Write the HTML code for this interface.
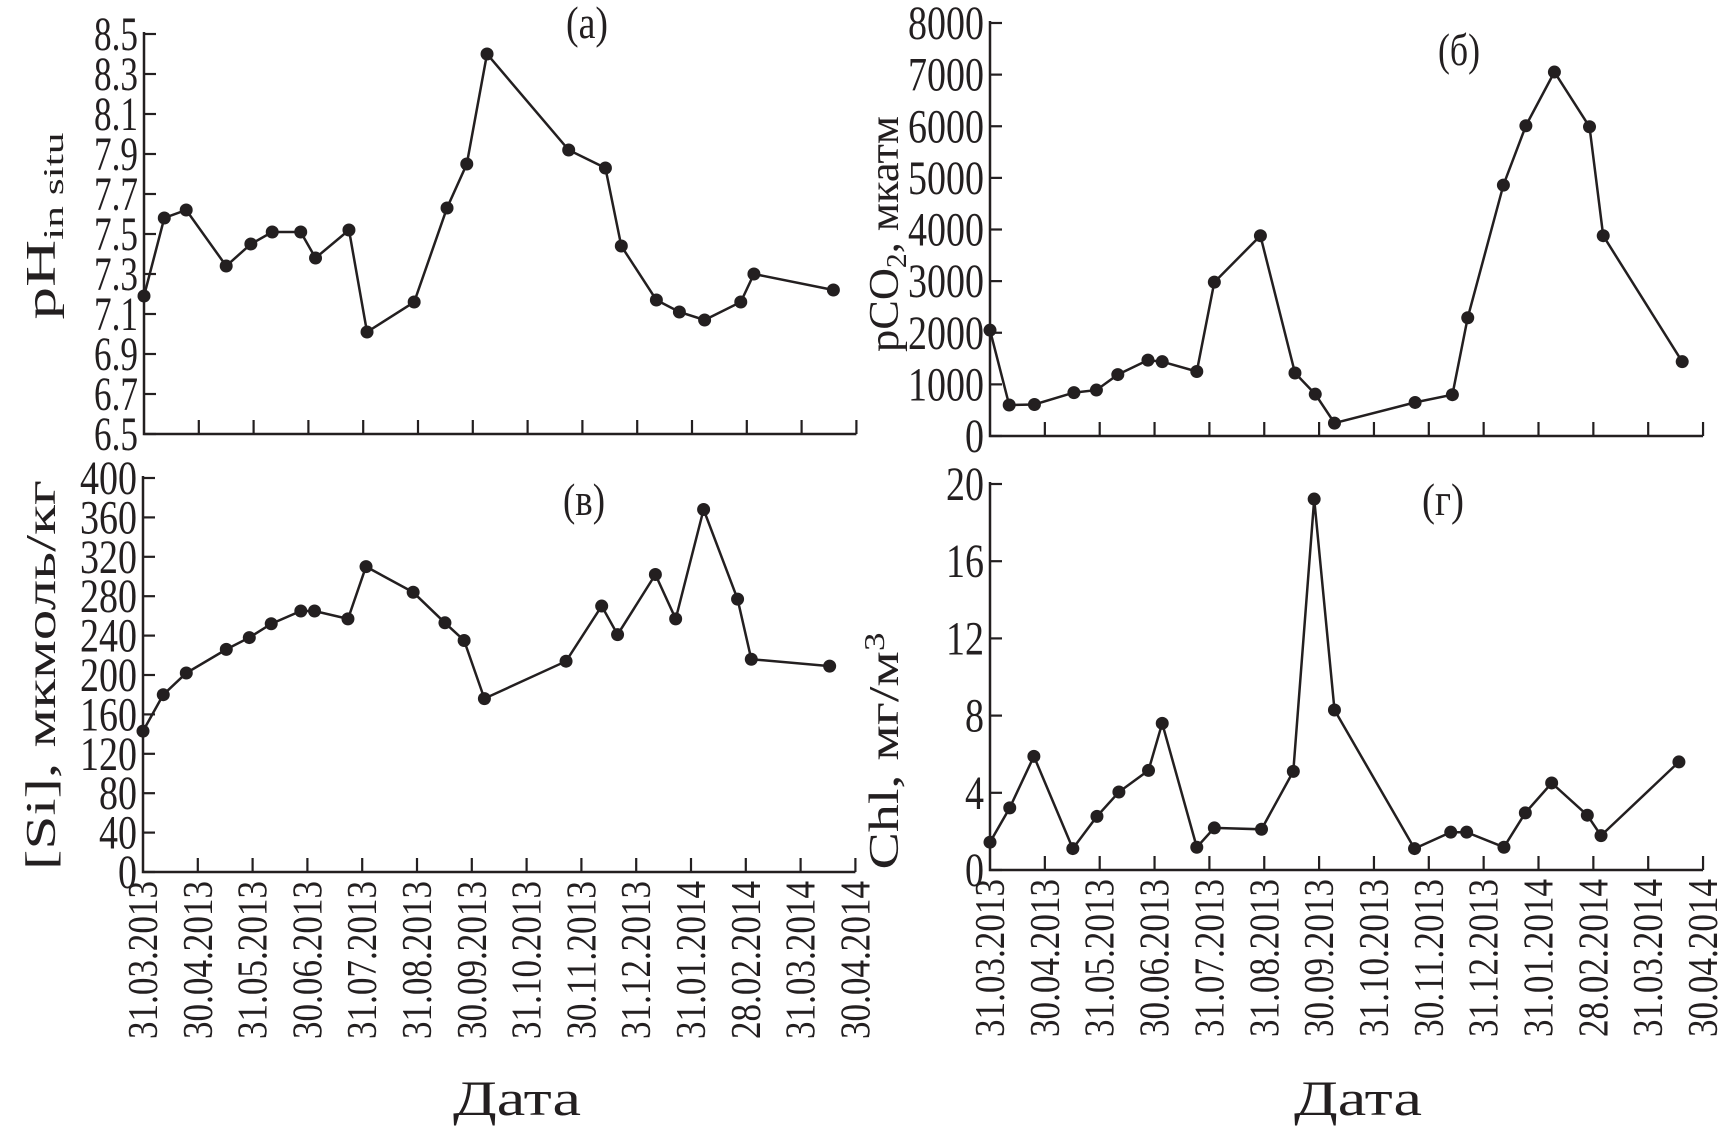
<!DOCTYPE html>
<html><head><meta charset="utf-8"><style>
html,body{margin:0;padding:0;background:#fff;}
svg{display:block;}
text{font-family:"Liberation Serif",serif;fill:#231f20;}
</style></head><body>
<svg id="fig" width="1718" height="1129" viewBox="0 0 1718 1129" xmlns="http://www.w3.org/2000/svg" style="position:absolute;left:0;top:0"></svg>
<script>
// ---- data (x = months after 31.03.2013) ----
const dateLabels = ["31.03.2013","30.04.2013","31.05.2013","30.06.2013","31.07.2013","31.08.2013","30.09.2013","31.10.2013","30.11.2013","31.12.2013","31.01.2014","28.02.2014","31.03.2014","30.04.2014"];
const phMonths = [0,0.37,0.77,1.5,1.95,2.34,2.86,3.13,3.74,4.07,4.93,5.53,5.89,6.26,7.75,8.42,8.71,9.35,9.77,10.23,10.89,11.13,12.58];
const phValues = [7.19,7.58,7.62,7.34,7.45,7.51,7.51,7.38,7.52,7.01,7.16,7.63,7.85,8.40,7.92,7.83,7.44,7.17,7.11,7.07,7.16,7.30,7.22];
const phTicks = [6.5,6.7,6.9,7.1,7.3,7.5,7.7,7.9,8.1,8.3,8.5];
const co2Months = [0,0.35,0.81,1.53,1.94,2.33,2.88,3.14,3.77,4.09,4.93,5.56,5.93,6.28,7.75,8.43,8.71,9.36,9.77,10.29,10.93,11.18,12.62];
const co2Values = [2050,600,610,840,890,1190,1470,1440,1250,2980,3880,1220,810,250,650,800,2290,4860,6010,7050,5990,3880,1440];
const co2Ticks = [0,1000,2000,3000,4000,5000,6000,7000,8000];
const siMonths = [0,0.37,0.79,1.52,1.94,2.34,2.88,3.13,3.74,4.07,4.93,5.51,5.86,6.23,7.72,8.37,8.66,9.35,9.72,10.23,10.85,11.1,12.53];
const siValues = [143,180,202,226,238,252,265,265,257,310,284,253,235,176,214,270,241,302,257,368,277,216,209];
const siTicks = [0,40,80,120,160,200,240,280,320,360,400];
const chlMonths = [0,0.36,0.80,1.51,1.95,2.35,2.89,3.14,3.77,4.09,4.95,5.53,5.91,6.28,7.74,8.40,8.69,9.37,9.76,10.24,10.89,11.14,12.56];
const chlValues = [1.44,3.22,5.89,1.11,2.78,4.04,5.16,7.6,1.18,2.18,2.11,5.11,19.22,8.29,1.11,1.96,1.96,1.18,2.96,4.51,2.84,1.78,5.6];
const chlTicks = [0,4,8,12,16,20];

const NS="http://www.w3.org/2000/svg";
const svg=document.getElementById('fig');
function mk(tag,attrs,parent){const e=document.createElementNS(NS,tag);for(const k in attrs)e.setAttribute(k,attrs[k]);(parent||svg).appendChild(e);return e;}
function labLen(s){let L=0;for(const c of s)L+=(c==='.'?6:19);return L;}

function panel(cfg){
  const g=mk('g',{});
  
  
  const sx=m=>cfg.x0+m*cfg.step;
  const sy=v=>cfg.yBot-(v-cfg.vmin)/(cfg.vmax-cfg.vmin)*(cfg.yBot-cfg.yTop);
  const xEnd=sx(13);
  const ax=mk('path',{d:`M${cfg.x0},${cfg.yTop-2}V${cfg.yBot}H${xEnd}`,stroke:'#231f20','stroke-width':2.5,fill:'none'},g);
  
  
  cfg.ticks.forEach(t=>{
    const y=sy(t);
    const tk=mk('line',{x1:cfg.x0,x2:cfg.x0+12,y1:y,y2:y,stroke:'#231f20','stroke-width':2.2},g);
    
    
    const s=cfg.fmt(t);
    const tx=mk('text',{x:cfg.x0-6,y:y+16,'text-anchor':'end','font-size':48,textLength:labLen(s),lengthAdjust:'spacingAndGlyphs'},g);
    tx.textContent=s;
    
    
  });
  for(let k=1;k<=13;k++){
    const tk=mk('line',{x1:sx(k),x2:sx(k),y1:cfg.yBot,y2:cfg.yBot-14,stroke:'#231f20','stroke-width':2.2},g);
    
    
  }
  if(cfg.dates){
    dateLabels.forEach((d,k)=>{
      const tx=mk('text',{transform:`translate(${sx(k)+14},${cfg.yBot+9}) rotate(-90)`,'text-anchor':'end','font-size':42,textLength:158,lengthAdjust:'spacingAndGlyphs'},g);
      tx.textContent=d;
      
      
    });
    const tx=mk('text',{x:cfg.dateX,y:1115,'text-anchor':'middle','font-size':50,textLength:128,lengthAdjust:'spacingAndGlyphs'},g);
    tx.textContent='Дата';
    
    
  }
  const pts=cfg.months.map((m,i)=>`${sx(m).toFixed(1)},${sy(cfg.values[i]).toFixed(1)}`).join(' ');
  const pl=mk('polyline',{points:pts,fill:'none',stroke:'#231f20','stroke-width':2.5},g);
  
  
  cfg.months.forEach((m,i)=>{
    const c=mk('circle',{cx:sx(m),cy:sy(cfg.values[i]),r:6.5,fill:'#231f20'},g);
    
    
  });
  const lt=mk('text',{x:cfg.lx,y:cfg.ly,'text-anchor':'middle','font-size':46,textLength:42,lengthAdjust:'spacingAndGlyphs'},g);
  lt.textContent=cfg.letter;
  
  
}

panel({name:'panel-ph',x0:144,step:54.8,yTop:34,yBot:434,vmin:6.5,vmax:8.5,ticks:phTicks,fmt:v=>v.toFixed(1),months:phMonths,values:phValues,letter:'(а)',lx:587,ly:38,dates:false});
panel({name:'panel-pco2',x0:990,step:54.85,yTop:23,yBot:436,vmin:0,vmax:8000,ticks:co2Ticks,fmt:v=>String(v),months:co2Months,values:co2Values,letter:'(б)',lx:1459,ly:65,dates:false});
panel({name:'panel-si',x0:143,step:54.8,yTop:478,yBot:872,vmin:0,vmax:400,ticks:siTicks,fmt:v=>String(v),months:siMonths,values:siValues,letter:'(в)',lx:584,ly:515,dates:true,dateX:517});
panel({name:'panel-chl',x0:990,step:54.85,yTop:484,yBot:870,vmin:0,vmax:20,ticks:chlTicks,fmt:v=>String(v),months:chlMonths,values:chlValues,letter:'(г)',lx:1443,ly:515,dates:true,dateX:1358});
</script>
<svg width="1718" height="1129" style="position:absolute;left:0;top:0" xmlns="http://www.w3.org/2000/svg">
  <text transform="translate(55,226) rotate(-90)" text-anchor="middle" font-size="42" textLength="187" lengthAdjust="spacingAndGlyphs">pH<tspan font-size="28" dy="8">in situ</tspan></text>
  <text transform="translate(55,675) rotate(-90)" text-anchor="middle" font-size="42" textLength="390" lengthAdjust="spacingAndGlyphs">[Si], мкмоль/кг</text>
  <text transform="translate(898,234) rotate(-90)" text-anchor="middle" font-size="42" textLength="236" lengthAdjust="spacingAndGlyphs">pCO<tspan font-size="28" dy="8">2</tspan><tspan dy="-8">, мкатм</tspan></text>
  <text transform="translate(898,751) rotate(-90)" text-anchor="middle" font-size="42" textLength="237" lengthAdjust="spacingAndGlyphs">Chl, мг/м<tspan font-size="28" dy="-14">3</tspan></text>
</svg>
</body></html>
